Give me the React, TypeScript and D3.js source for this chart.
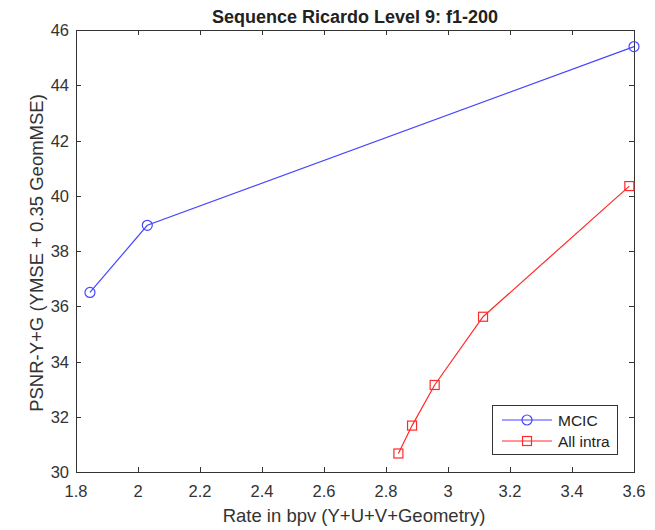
import React, { useEffect, useRef } from "react";
import * as d3 from "d3";

// MCIC series
const mcicRate = [1.845, 2.03, 3.6];
const mcicPsnr = [36.5, 38.93, 45.4];

// All intra series
const intraRate = [2.84, 2.884, 2.957, 3.113, 3.585];
const intraPsnr = [30.67, 31.68, 33.15, 35.62, 40.35];

const xTicks = [1.8, 2, 2.2, 2.4, 2.6, 2.8, 3, 3.2, 3.4, 3.6];
const yTicks = [30, 32, 34, 36, 38, 40, 42, 44, 46];

const seriesNames = ["MCIC", "All intra"];

const App = () => {
  const ref = useRef<SVGSVGElement>(null);

  useEffect(() => {
    const width = 655;
    const height = 530;
    const left = 76;
    const right = 634;
    const top = 30;
    const bottom = 472;
    const font = "Liberation Sans, Arial, sans-serif";
    const blue = "#4646ff";
    const red = "#ff2a2a";

    const svg = d3.select(ref.current);
    svg.selectAll("*").remove();
    svg.attr("width", width).attr("height", height);

    svg.append("rect").attr("width", width).attr("height", height).attr("fill", "#fff");

    const x = d3.scaleLinear().domain([1.8, 3.6]).range([left, right]);
    const y = d3.scaleLinear().domain([30, 46]).range([bottom, top]);

    /* ticks, inward on all four sides */
    const tk = 5;
    const axisColor = "#333";
    const ticks = svg.append("g").attr("stroke", axisColor).attr("stroke-width", 1);
    xTicks.forEach((t) => {
      const px = Math.round(x(t)) + 0.5;
      ticks.append("line").attr("x1", px).attr("x2", px).attr("y1", bottom).attr("y2", bottom - tk);
      ticks.append("line").attr("x1", px).attr("x2", px).attr("y1", top).attr("y2", top + tk);
    });
    yTicks.forEach((t) => {
      const py = Math.round(y(t)) + 0.5;
      ticks.append("line").attr("x1", left).attr("x2", left + tk).attr("y1", py).attr("y2", py);
      ticks.append("line").attr("x1", right).attr("x2", right - tk).attr("y1", py).attr("y2", py);
    });

    svg
      .append("rect")
      .attr("x", left + 0.5)
      .attr("y", top + 0.5)
      .attr("width", right - left)
      .attr("height", bottom - top)
      .attr("fill", "none")
      .attr("stroke", axisColor);

    /* tick labels */
    svg
      .append("g")
      .selectAll("text")
      .data(xTicks)
      .join("text")
      .attr("x", (d) => x(d))
      .attr("y", bottom + 25)
      .attr("text-anchor", "middle")
      .attr("font-family", font)
      .attr("font-size", 16.5)
      .attr("fill", "#333")
      .text((d) => String(d));

    svg
      .append("g")
      .selectAll("text")
      .data(yTicks)
      .join("text")
      .attr("x", left - 7)
      .attr("y", (d) => y(d) + 6)
      .attr("text-anchor", "end")
      .attr("font-family", font)
      .attr("font-size", 16.5)
      .attr("fill", "#333")
      .text((d) => String(d));

    /* title + axis labels */
    svg
      .append("text")
      .attr("x", 355)
      .attr("y", 23)
      .attr("text-anchor", "middle")
      .attr("font-family", font)
      .attr("font-size", 18)
      .attr("font-weight", "bold")
      .attr("fill", "#222")
      .text("Sequence Ricardo Level 9: f1-200");

    svg
      .append("text")
      .attr("x", 354)
      .attr("y", 522)
      .attr("text-anchor", "middle")
      .attr("font-family", font)
      .attr("font-size", 18.5)
      .attr("fill", "#333")
      .text("Rate in bpv (Y+U+V+Geometry)");

    svg
      .append("text")
      .attr("transform", `translate(43,253) rotate(-90)`)
      .attr("text-anchor", "middle")
      .attr("font-family", font)
      .attr("font-size", 18.5)
      .attr("fill", "#333")
      .text("PSNR-Y+G (YMSE + 0.35 GeomMSE)");

    /* lines */
    const line = d3
      .line<[number, number]>()
      .x((d) => x(d[0]))
      .y((d) => y(d[1]));

    const mcic: [number, number][] = mcicRate.map((r, i) => [r, mcicPsnr[i]]);
    const intra: [number, number][] = intraRate.map((r, i) => [r, intraPsnr[i]]);

    svg.append("path").datum(mcic).attr("d", line).attr("fill", "none").attr("stroke", blue).attr("stroke-width", 1.2);
    svg
      .append("g")
      .selectAll("circle")
      .data(mcic)
      .join("circle")
      .attr("cx", (d) => x(d[0]))
      .attr("cy", (d) => y(d[1]))
      .attr("r", 5)
      .attr("fill", "none")
      .attr("stroke", blue)
      .attr("stroke-width", 1.2);

    svg.append("path").datum(intra).attr("d", line).attr("fill", "none").attr("stroke", red).attr("stroke-width", 1.2);
    svg
      .append("g")
      .selectAll("rect")
      .data(intra)
      .join("rect")
      .attr("x", (d) => x(d[0]) - 4.5)
      .attr("y", (d) => y(d[1]) - 4.5)
      .attr("width", 9)
      .attr("height", 9)
      .attr("fill", "none")
      .attr("stroke", red)
      .attr("stroke-width", 1.2);

    /* legend */
    const lg = svg.append("g").attr("transform", "translate(492,405)");
    lg.append("rect").attr("x", 0.5).attr("y", 0.5).attr("width", 125).attr("height", 49).attr("fill", "#fff").attr("stroke", "#333");
    seriesNames.forEach((name, i) => {
      const cy = 15 + i * 21;
      const c = i === 0 ? blue : red;
      lg.append("line").attr("x1", 10).attr("x2", 60).attr("y1", cy).attr("y2", cy).attr("stroke", c).attr("stroke-width", 1.2);
      if (i === 0) {
        lg.append("circle").attr("cx", 35).attr("cy", cy).attr("r", 5).attr("fill", "none").attr("stroke", c).attr("stroke-width", 1.2);
      } else {
        lg.append("rect").attr("x", 30.5).attr("y", cy - 4.5).attr("width", 9).attr("height", 9).attr("fill", "none").attr("stroke", c).attr("stroke-width", 1.2);
      }
      lg.append("text")
        .attr("x", 66)
        .attr("y", cy + 5.5)
        .attr("font-family", font)
        .attr("font-size", 15.5)
        .attr("fill", "#222")
        .text(name);
    });
  }, []);

  return <svg ref={ref} style={{ position: "absolute", left: 0, top: 0 }} />;
};

export default App;
